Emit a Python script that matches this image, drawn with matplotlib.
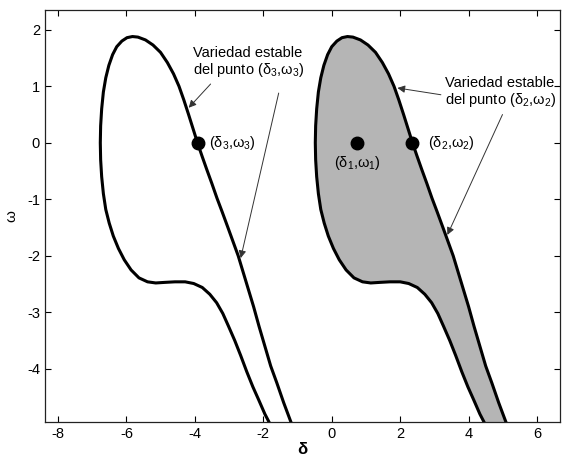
import numpy as np
import matplotlib
matplotlib.use("Agg")
import matplotlib.pyplot as plt

plt.rcParams['font.family'] = ['Liberation Sans', 'DejaVu Sans']
plt.rcParams['mathtext.fontset'] = 'custom'
plt.rcParams['mathtext.rm'] = 'Liberation Sans'
plt.rcParams['mathtext.it'] = 'Liberation Sans'
plt.rcParams['axes.unicode_minus'] = False

# Boundary of the stable manifold of (delta2, omega2), traced counter-clockwise
manifold_delta = [5.22, 5.09, 4.88, 4.68, 4.50, 4.33, 4.16, 4.00, 3.85, 3.70, 3.55,
                  3.40, 3.25, 3.08, 2.93, 2.78, 2.63, 2.49, 2.36, 2.23, 2.10, 1.96,
                  1.82, 1.66, 1.48, 1.28, 1.06, 0.84, 0.62, 0.46, 0.30, 0.15, 0.00,
                  -0.12, -0.23, -0.32, -0.39, -0.44, -0.47, -0.48, -0.47, -0.44,
                  -0.39, -0.32, -0.22, -0.10, 0.05, 0.22, 0.42, 0.65, 0.90, 1.14,
                  1.40, 1.70, 2.00, 2.25, 2.50, 2.72, 2.92, 3.10, 3.27, 3.45, 3.62,
                  3.80, 3.98, 4.15, 4.33, 4.45, 4.57]
manifold_omega = [-5.10, -4.94, -4.60, -4.25, -3.95, -3.60, -3.25, -2.90, -2.60, -2.30, -2.00,
                  -1.75, -1.50, -1.22, -0.98, -0.72, -0.47, -0.23, 0.00, 0.25, 0.50, 0.76,
                  1.00, 1.22, 1.42, 1.60, 1.73, 1.82, 1.87, 1.88, 1.86, 1.80, 1.70,
                  1.56, 1.37, 1.15, 0.90, 0.60, 0.30, 0.00, -0.30, -0.60,
                  -0.90, -1.18, -1.42, -1.65, -1.87, -2.07, -2.25, -2.39, -2.46, -2.48,
                  -2.47, -2.46, -2.46, -2.49, -2.56, -2.68, -2.83, -3.02, -3.25, -3.50, -3.76,
                  -4.05, -4.32, -4.55, -4.80, -4.94, -5.10]

# The same manifold one period to the left, for (delta3, omega3)
period_shift = -2 * np.pi

# Equilibrium points
eq_delta = [0.75, 2.36, -3.92]
eq_omega = [0.0, 0.0, 0.0]

xticks = [-8, -6, -4, -2, 0, 2, 4, 6]
yticks = [-4, -3, -2, -1, 0, 1, 2]

fig = plt.figure(figsize=(5.65, 4.62), dpi=100)
ax = fig.add_axes([0.0796, 0.0866, 0.9115, 0.8918])

md = np.array(manifold_delta)
mw = np.array(manifold_omega)

ax.fill(md, mw, color='#b5b5b5', zorder=1, lw=0)
ax.plot(md, mw, color='black', lw=2.2, zorder=2, solid_joinstyle='round')
ax.plot(md + period_shift, mw, color='black', lw=2.2, zorder=2, solid_joinstyle='round')

ax.plot(eq_delta, eq_omega, 'o', color='black', ms=9, zorder=3)

ax.set_xlim(-8.38, 6.67)
ax.set_ylim(-4.94, 2.35)
ax.set_xticks(xticks)
ax.set_yticks(yticks)
ax.tick_params(direction='in', top=True, right=True, length=4, width=0.8,
               labelsize=10.5, colors='black')
for s in ax.spines.values():
    s.set_linewidth(0.9)
    s.set_color('#222222')

ax.set_xlabel('δ', fontsize=12, fontweight='bold', labelpad=1)
ax.set_ylabel('ω', fontsize=11, labelpad=6)

txt = dict(fontsize=10.5, color='black')
ax.text(-3.60, 0.0, '(δ$_3$,ω$_3$)', ha='left', va='center', **txt)
ax.text(2.80, 0.0, '(δ$_2$,ω$_2$)', ha='left', va='center', **txt)
ax.text(0.75, -0.36, '(δ$_1$,ω$_1$)', ha='center', va='center', **txt)

ax.text(-4.06, 1.42, 'Variedad estable\ndel punto (δ$_3$,ω$_3$)', ha='left',
        va='center', linespacing=1.1, **txt)
ax.text(3.30, 0.89, 'Variedad estable\ndel punto (δ$_2$,ω$_2$)', ha='left',
        va='center', linespacing=1.1, **txt)

arrow = dict(arrowstyle='-|>', lw=0.7, color='#333333', mutation_scale=11,
             shrinkA=0, shrinkB=0)
ax.annotate('', xy=(-4.18, 0.62), xytext=(-3.54, 1.04), arrowprops=arrow)
ax.annotate('', xy=(-2.66, -2.04), xytext=(-1.55, 0.88), arrowprops=arrow)
ax.annotate('', xy=(1.92, 0.97), xytext=(3.19, 0.85), arrowprops=arrow)
ax.annotate('', xy=(3.38, -1.63), xytext=(4.99, 0.50), arrowprops=arrow)

fig.savefig('out.png', dpi=100)
